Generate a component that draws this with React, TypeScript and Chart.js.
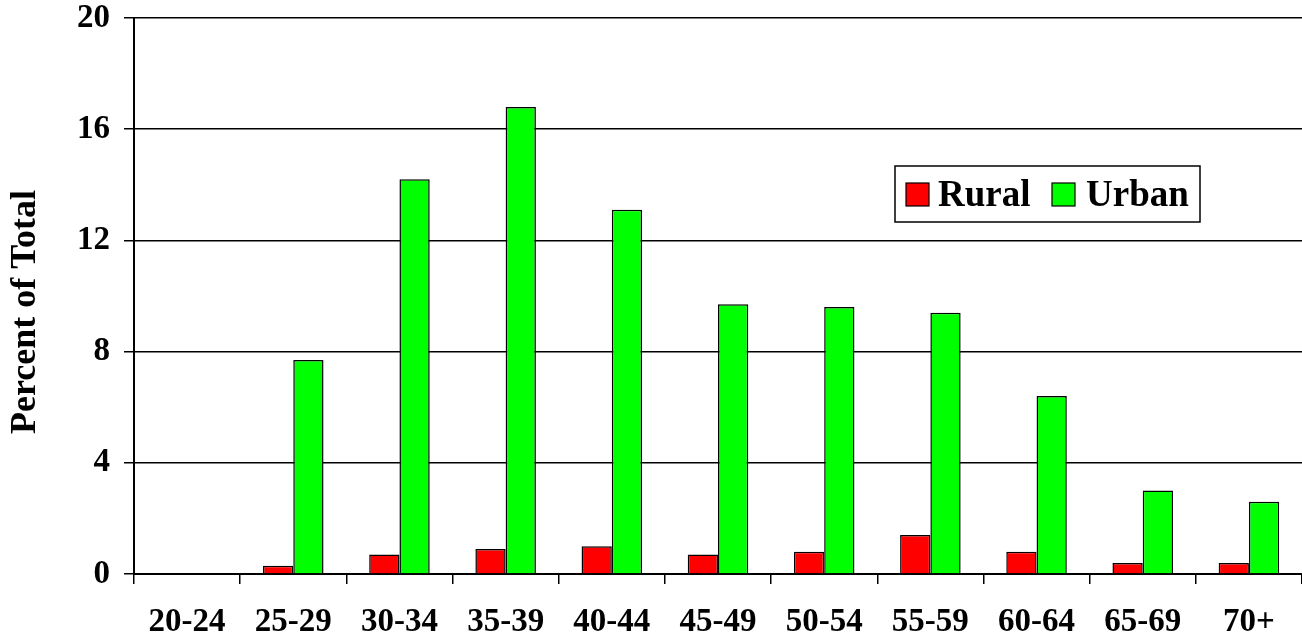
import React, { useEffect, useRef } from "react";
import { Chart, registerables } from "chart.js";

Chart.register(...registerables);

const categories = ["20-24", "25-29", "30-34", "35-39", "40-44", "45-49", "50-54", "55-59", "60-64", "65-69", "70+"];
const rural = [0, 0.3, 0.7, 0.9, 1.0, 0.7, 0.8, 1.4, 0.8, 0.4, 0.4];
const urban = [0, 7.7, 14.2, 16.8, 13.1, 9.7, 9.6, 9.4, 6.4, 3.0, 2.6];
const seriesNames = ["Rural", "Urban"];
const seriesColors = ["#FF0000", "#00FF00"];
const yTicks = [0, 4, 8, 12, 16, 20];
const yTitle = "Percent of Total";

const FONT = "'Liberation Serif', 'Times New Roman', serif";

const legendPlugin = {
  id: "boxLegend",
  afterDraw(chart: any) {
    const ctx = chart.ctx;
    ctx.save();
    const x = 895, y = 166, w = 305, h = 56;
    ctx.fillStyle = "#fff";
    ctx.fillRect(x, y, w, h);
    ctx.strokeStyle = "#000";
    ctx.lineWidth = 1.5;
    ctx.strokeRect(x, y, w, h);
    ctx.font = `bold 37px ${FONT}`;
    ctx.textBaseline = "middle";
    ctx.textAlign = "left";
    const items = [
      { sx: 906, tx: 938 },
      { sx: 1052, tx: 1086 },
    ];
    items.forEach((it, i) => {
      ctx.fillStyle = seriesColors[i];
      ctx.fillRect(it.sx, 183, 23, 23);
      ctx.lineWidth = 1.2;
      ctx.strokeStyle = "#000";
      ctx.strokeRect(it.sx, 183, 23, 23);
      ctx.fillStyle = "#000";
      ctx.fillText(seriesNames[i], it.tx, 196);
    });
    ctx.restore();
  },
};

const yTitlePlugin = {
  id: "yTitle",
  afterDraw(chart: any) {
    const ctx = chart.ctx;
    ctx.save();
    ctx.translate(35, 312);
    ctx.rotate(-Math.PI / 2);
    ctx.font = `bold 36px ${FONT}`;
    ctx.fillStyle = "#000";
    ctx.textAlign = "center";
    ctx.textBaseline = "alphabetic";
    ctx.fillText(yTitle, 0, 0);
    ctx.restore();
  },
};

export default function App() {
  const ref = useRef<HTMLCanvasElement>(null);
  useEffect(() => {
    document.body.style.margin = "0";
    const chart = new Chart(ref.current!, {
      type: "bar",
      data: {
        labels: categories,
        datasets: [
          { label: seriesNames[0], data: rural, backgroundColor: seriesColors[0], borderColor: "#000", borderWidth: 1.5 },
          { label: seriesNames[1], data: urban, backgroundColor: seriesColors[1], borderColor: "#000", borderWidth: 1.5 },
        ],
      },
      options: {
        responsive: false,
        animation: false,
        layout: { padding: { top: 18, right: 0, left: 0, bottom: 0 } },
        datasets: { bar: { categoryPercentage: 0.57, barPercentage: 1.0 } },
        plugins: { legend: { display: false }, tooltip: { enabled: false } },
        scales: {
          x: {
            grid: { display: true, drawOnChartArea: false, drawTicks: true, tickLength: 10, color: "#000", lineWidth: 1.5, offset: true },
            border: { display: true, color: "#000", width: 2 },
            ticks: { color: "#000", font: { family: FONT, size: 33, weight: "bold", lineHeight: 1 }, padding: 22, maxRotation: 0, autoSkip: false },
            afterFit(scale: any) { scale.height = 62; scale.paddingLeft = 0; scale.paddingRight = 0; },
          },
          y: {
            min: 0,
            max: 20,
            afterBuildTicks(scale: any) { scale.ticks = yTicks.map((v) => ({ value: v })); },
            grid: { color: "#000", lineWidth: 1.5, tickLength: 10, drawTicks: true },
            border: { display: true, color: "#000", width: 2 },
            ticks: { color: "#000", font: { family: FONT, size: 33, weight: "bold", lineHeight: 1 }, padding: 14 },
            title: { display: false, text: yTitle },
            afterFit(scale: any) { scale.width = 134; scale.paddingTop = 0; scale.paddingBottom = 0; },
          },
        },
      },
      plugins: [legendPlugin, yTitlePlugin],
    });
    return () => chart.destroy();
  }, []);
  return (
    <div style={{ position: "fixed", left: 0, top: 0, width: 1302, height: 636, background: "#fff" }}>
      <canvas ref={ref} width={1302} height={636} />
    </div>
  );
}
